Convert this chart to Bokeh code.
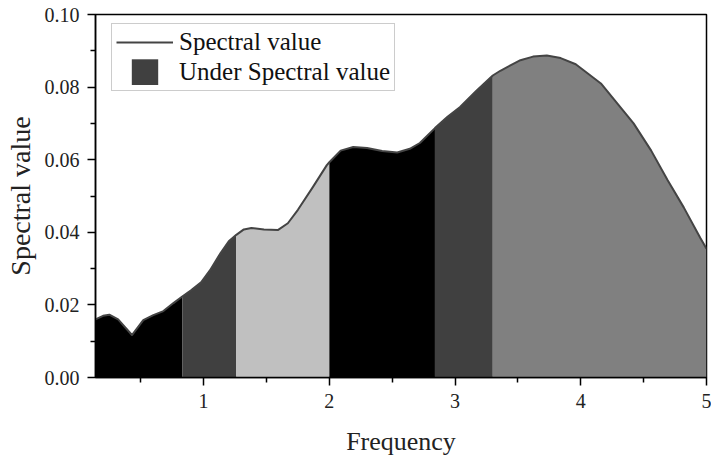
from bokeh.plotting import figure
from bokeh.models import Range1d, FixedTicker, PrintfTickFormatter, Legend, LegendItem
from bokeh.embed import file_html
from bokeh.resources import INLINE

# Curve
freq = [0.14, 0.20, 0.25, 0.32, 0.43, 0.52, 0.60, 0.68, 0.76, 0.83,
        0.90, 0.98, 1.05, 1.135, 1.20, 1.26,
        1.32, 1.38, 1.48, 1.59, 1.67, 1.75, 1.87, 1.98, 2.00,
        2.09, 2.19, 2.30, 2.42, 2.54, 2.64, 2.72, 2.84,
        2.94, 3.04, 3.17, 3.30,
        3.36, 3.52, 3.62, 3.73, 3.84, 3.96, 4.16, 4.29, 4.42, 4.56, 4.69, 4.82, 4.95, 5.00]
spectral = [0.0160, 0.0170, 0.0173, 0.0160, 0.0117, 0.0158, 0.0172, 0.0183, 0.0205, 0.0223,
            0.0240, 0.0262, 0.0295, 0.0343, 0.0375, 0.0393,
            0.0408, 0.0412, 0.0408, 0.0406, 0.0425, 0.0462, 0.0525, 0.0585, 0.0593,
            0.0625, 0.0635, 0.0632, 0.0624, 0.0620, 0.0630, 0.0646, 0.0687,
            0.0718, 0.0745, 0.0790, 0.0832,
            0.0845, 0.0874, 0.0884, 0.0887, 0.0880, 0.0863, 0.0810, 0.0755, 0.0700, 0.0625, 0.0544, 0.0468, 0.0385, 0.0355]

# Shaded bands under the curve
band_edges = [0.14, 0.83, 1.26, 2.00, 2.84, 3.30, 5.00]
band_colors = ["#000000", "#404040", "#c0c0c0", "#000000", "#404040", "#808080"]

x_ticks = [1, 2, 3, 4, 5]
x_minor = [0.5, 1.5, 2.5, 3.5, 4.5]
y_ticks = [0.00, 0.02, 0.04, 0.06, 0.08, 0.10]
y_minor = [0.01, 0.03, 0.05, 0.07, 0.09]

FONT = "Liberation Serif"

p = figure(width=711, height=458, output_backend="svg", toolbar_location=None,
           x_range=Range1d(0.14, 5.0), y_range=Range1d(0.0, 0.10),
           min_border_left=95, min_border_right=5, min_border_top=14, min_border_bottom=80,
           x_axis_label="Frequency", y_axis_label="Spectral value")

for i, col in enumerate(band_colors):
    lo, hi = band_edges[i], band_edges[i + 1]
    xs = [f for f in freq if lo - 1e-9 <= f <= hi + 1e-9]
    ys = [v for f, v in zip(freq, spectral) if lo - 1e-9 <= f <= hi + 1e-9]
    p.varea(x=xs, y1=[0] * len(xs), y2=ys, fill_color=col, fill_alpha=1.0)

line_r = p.line(freq, spectral, line_color="#444444", line_width=2, line_join="round")
# legend-only renderer (NaN point is never drawn in the plot)
sq_r = p.scatter(x=[float("nan")], y=[float("nan")], marker="square", size=10,
                 fill_color="#404040", line_color="#404040", line_width=16, line_join="miter")

p.xgrid.visible = False
p.ygrid.visible = False
p.outline_line_color = "black"
p.outline_line_width = 1.5
p.background_fill_color = "white"
p.border_fill_color = "white"

for ax in (p.xaxis[0], p.yaxis[0]):
    ax.axis_line_width = 1.5
    ax.major_tick_line_width = 1.5
    ax.minor_tick_line_width = 1.5
    ax.major_tick_in = 0
    ax.major_tick_out = 8
    ax.minor_tick_in = 0
    ax.minor_tick_out = 5
    ax.major_label_text_font = FONT
    ax.major_label_text_font_size = "20px"
    ax.major_label_text_color = "#222222"
    ax.axis_label_text_font = FONT
    ax.axis_label_text_font_style = "normal"
    ax.axis_label_text_color = "#222222"

p.xaxis[0].axis_label_text_font_size = "26px"
p.yaxis[0].axis_label_text_font_size = "28px"
p.xaxis[0].ticker = FixedTicker(ticks=x_ticks, minor_ticks=x_minor)
p.yaxis[0].ticker = FixedTicker(ticks=y_ticks, minor_ticks=y_minor)
p.xaxis[0].formatter = PrintfTickFormatter(format="%d")
p.yaxis[0].formatter = PrintfTickFormatter(format="%.2f")
p.xaxis[0].major_label_standoff = 8
p.yaxis[0].major_label_standoff = 8
p.xaxis[0].axis_label_standoff = 16
p.yaxis[0].axis_label_standoff = 6

legend = Legend(items=[LegendItem(label="Spectral value", renderers=[line_r]),
                       LegendItem(label="Under Spectral value", renderers=[sq_r])],
                location=(16, 286), glyph_width=57, glyph_height=26, spacing=2,
                padding=4, label_standoff=6, label_text_font=FONT,
                label_text_font_size="25px", label_text_color="#111111",
                border_line_color="#999999", border_line_width=1,
                background_fill_color="white", background_fill_alpha=1.0, margin=0)
p.add_layout(legend)

open("out.html", "w").write(file_html(p, INLINE))
